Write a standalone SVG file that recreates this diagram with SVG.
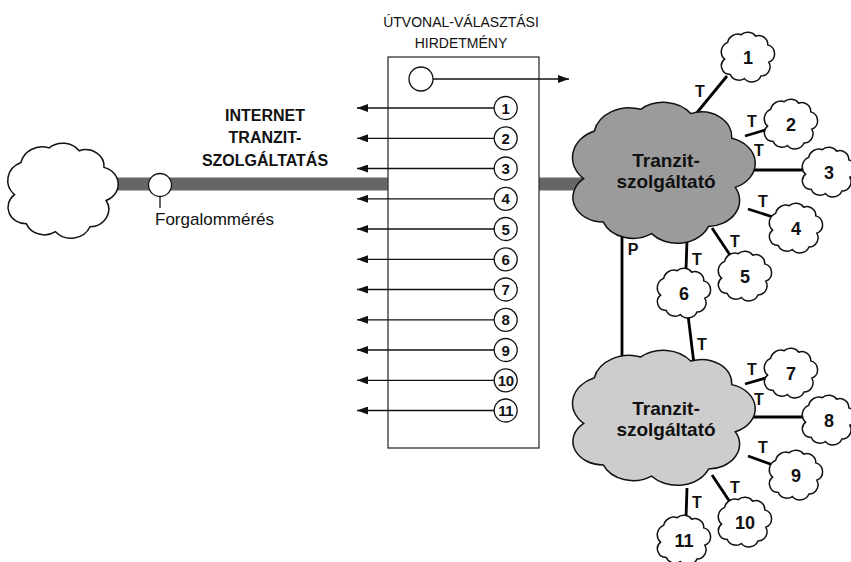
<svg xmlns="http://www.w3.org/2000/svg" xmlns:xlink="http://www.w3.org/1999/xlink" width="851" height="562" viewBox="0 0 851 562">
  <style>
    text { font-family: "Liberation Sans", Arial, sans-serif; fill: #111; }
    .cloud { fill: #fff; stroke: #111; stroke-width: 1.5; }
    .dark { fill: #9b9b9b; }
    .light { fill: #cdcdcd; }
    .bar { fill: #666; }
    .link { stroke: #000; stroke-width: 2.8; fill: none; }
    .arrow { stroke: #111; stroke-width: 1.3; fill: none; marker-end: url(#ah); }
    .ring { fill: #fff; stroke: #111; stroke-width: 1.3; }
    .num { font-size: 15px; font-weight: bold; text-anchor: middle; }
    .big { font-size: 18px; font-weight: bold; text-anchor: middle; }
    .tag { font-size: 16px; font-weight: bold; text-anchor: middle; }
    .isp { font-size: 19px; font-weight: bold; text-anchor: middle; }
  </style>
  <defs>
    <marker id="ah" markerWidth="12" markerHeight="8" refX="11" refY="4" orient="auto" markerUnits="userSpaceOnUse">
      <path d="M0,0 L11,4 L0,8 Z" fill="#111"/>
    </marker>
    <!-- generic cloud outline, roughly 102 x 97 around (3,1.7) -->
    <path id="cloudShape" vector-effect="non-scaling-stroke" d="M-42,6 A20,20 0 0 1 -36,-27 A20,20 0 0 1 -10,-42 A19,19 0 0 1 18,-39 A17,17 0 0 1 41,-22 A18,18 0 0 1 43,12 A18,18 0 0 1 28,39 A19,19 0 0 1 -4,44 A18,18 0 0 1 -31,36 A17,17 0 0 1 -42,6 Z"/>
  </defs>

  <!-- trunk lines -->
  <rect class="bar" x="100" y="177.5" width="288" height="13"/>
  <rect class="bar" x="539" y="177.5" width="70" height="13"/>

  <!-- connectors -->
  <g id="connectors">
    <line class="link" x1="695" y1="115" x2="727" y2="76"/>
    <line class="link" x1="745" y1="136" x2="772" y2="128"/>
    <line class="link" x1="745" y1="170" x2="808" y2="170"/>
    <line class="link" x1="748" y1="209" x2="773" y2="217"/>
    <line class="link" x1="712" y1="228" x2="732" y2="258"/>
    <line class="link" x1="687" y1="240" x2="686" y2="270"/>
    <line class="link" x1="622" y1="235" x2="622" y2="368"/>
    <line class="link" x1="688" y1="315" x2="694" y2="364"/>
    <line class="link" x1="745" y1="384" x2="769" y2="377"/>
    <line class="link" x1="745" y1="417" x2="808" y2="417"/>
    <line class="link" x1="748" y1="456" x2="773" y2="465"/>
    <line class="link" x1="712" y1="475" x2="732" y2="505"/>
    <line class="link" x1="687" y1="488" x2="686" y2="518"/>
    <g id="link-labels">
      <text class="tag" x="700" y="97">T</text>
      <text class="tag" x="752" y="127">T</text>
      <text class="tag" x="759" y="156">T</text>
      <text class="tag" x="763" y="207">T</text>
      <text class="tag" x="735" y="247">T</text>
      <text class="tag" x="697" y="265">T</text>
      <text class="tag" x="633" y="255">P</text>
      <text class="tag" x="702" y="350">T</text>
      <text class="tag" x="752" y="375">T</text>
      <text class="tag" x="759" y="405">T</text>
      <text class="tag" x="763" y="453">T</text>
      <text class="tag" x="735" y="493">T</text>
      <text class="tag" x="697" y="508">T</text>
    </g>
  </g>

  <!-- upstream network and measuring point -->
  <g id="internet">
    <use xlink:href="#cloudShape" class="cloud" transform="translate(59.8,188.8) scale(1.078,0.974)"/>
  </g>
  <g id="measure">
    <circle class="ring" cx="160" cy="185" r="11.5"/>
    <line x1="160" y1="196.5" x2="160" y2="208" stroke="#111" stroke-width="1.3"/>
    <text x="155" y="225" font-size="17">Forgalommérés</text>
  </g>
  <g id="service-label">
    <text class="tag" x="265" y="121">INTERNET</text>
    <text class="tag" x="265" y="143">TRANZIT-</text>
    <text class="tag" x="265" y="166">SZOLGÁLTATÁS</text>
  </g>

  <!-- route advertisement panel -->
  <g id="advert">
    <text x="461" y="27" font-size="14" text-anchor="middle">ÚTVONAL-VÁLASZTÁSI</text>
    <text x="461" y="48" font-size="14" text-anchor="middle">HIRDETMÉNY</text>
    <rect x="388" y="57" width="151" height="391" fill="#fff" stroke="#333" stroke-width="1.3"/>
    <circle class="ring" cx="421" cy="79" r="12"/>
    <line class="arrow" x1="433" y1="79" x2="569" y2="79"/>
    <g id="routes">
      <line class="arrow" x1="494" y1="108" x2="357" y2="108"/>
      <line class="arrow" x1="494" y1="138.3" x2="357" y2="138.3"/>
      <line class="arrow" x1="494" y1="168.5" x2="357" y2="168.5"/>
      <line class="arrow" x1="494" y1="198.8" x2="357" y2="198.8"/>
      <line class="arrow" x1="494" y1="229" x2="357" y2="229"/>
      <line class="arrow" x1="494" y1="259.3" x2="357" y2="259.3"/>
      <line class="arrow" x1="494" y1="289.5" x2="357" y2="289.5"/>
      <line class="arrow" x1="494" y1="319.8" x2="357" y2="319.8"/>
      <line class="arrow" x1="494" y1="350" x2="357" y2="350"/>
      <line class="arrow" x1="494" y1="380.3" x2="357" y2="380.3"/>
      <line class="arrow" x1="494" y1="410.5" x2="357" y2="410.5"/>
      <circle class="ring" cx="505.7" cy="108" r="11.5"/>
      <circle class="ring" cx="505.7" cy="138.3" r="11.5"/>
      <circle class="ring" cx="505.7" cy="168.5" r="11.5"/>
      <circle class="ring" cx="505.7" cy="198.8" r="11.5"/>
      <circle class="ring" cx="505.7" cy="229" r="11.5"/>
      <circle class="ring" cx="505.7" cy="259.3" r="11.5"/>
      <circle class="ring" cx="505.7" cy="289.5" r="11.5"/>
      <circle class="ring" cx="505.7" cy="319.8" r="11.5"/>
      <circle class="ring" cx="505.7" cy="350" r="11.5"/>
      <circle class="ring" cx="505.7" cy="380.3" r="11.5"/>
      <circle class="ring" cx="505.7" cy="410.5" r="11.5"/>
      <text class="num" x="505.7" y="113.5">1</text>
      <text class="num" x="505.7" y="143.8">2</text>
      <text class="num" x="505.7" y="174">3</text>
      <text class="num" x="505.7" y="204.3">4</text>
      <text class="num" x="505.7" y="234.5">5</text>
      <text class="num" x="505.7" y="264.8">6</text>
      <text class="num" x="505.7" y="295">7</text>
      <text class="num" x="505.7" y="325.3">8</text>
      <text class="num" x="505.7" y="355.5">9</text>
      <text class="num" x="505.7" y="385.8" letter-spacing="-0.5">10</text>
      <text class="num" x="505.7" y="416" letter-spacing="-0.5">11</text>
    </g>
  </g>

  <!-- transit providers -->
  <g id="transit-upper">
    <use xlink:href="#cloudShape" class="cloud dark" transform="translate(658.6,170) scale(1.784,1.446)"/>
    <text class="isp" x="666" y="167">Tranzit-</text>
    <text class="isp" x="666" y="188">szolgáltató</text>
  </g>
  <g id="transit-lower">
    <use xlink:href="#cloudShape" class="cloud light" transform="translate(658.6,415.1) scale(1.784,1.385)"/>
    <text class="isp" x="666" y="415">Tranzit-</text>
    <text class="isp" x="666" y="436">szolgáltató</text>
  </g>

  <!-- customer networks -->
  <g id="net-1"><use xlink:href="#cloudShape" class="cloud" transform="translate(746.4,56.1) scale(0.52,0.51)"/><text class="big" x="748" y="63.5">1</text></g>
  <g id="net-2"><use xlink:href="#cloudShape" class="cloud" transform="translate(789.4,123.1) scale(0.52,0.51)"/><text class="big" x="791" y="130.5">2</text></g>
  <g id="net-3"><use xlink:href="#cloudShape" class="cloud" transform="translate(827.4,171.1) scale(0.52,0.51)"/><text class="big" x="829" y="178.5">3</text></g>
  <g id="net-4"><use xlink:href="#cloudShape" class="cloud" transform="translate(794.4,227.1) scale(0.52,0.51)"/><text class="big" x="796" y="234.5">4</text></g>
  <g id="net-5"><use xlink:href="#cloudShape" class="cloud" transform="translate(743.4,275.1) scale(0.52,0.51)"/><text class="big" x="745" y="282.5">5</text></g>
  <g id="net-6"><use xlink:href="#cloudShape" class="cloud" transform="translate(682.4,292.1) scale(0.52,0.51)"/><text class="big" x="684" y="299.5">6</text></g>
  <g id="net-7"><use xlink:href="#cloudShape" class="cloud" transform="translate(789.4,372.1) scale(0.52,0.51)"/><text class="big" x="791" y="379.5">7</text></g>
  <g id="net-8"><use xlink:href="#cloudShape" class="cloud" transform="translate(827.4,419.1) scale(0.52,0.51)"/><text class="big" x="829" y="426.5">8</text></g>
  <g id="net-9"><use xlink:href="#cloudShape" class="cloud" transform="translate(794.4,474.1) scale(0.52,0.51)"/><text class="big" x="796" y="481.5">9</text></g>
  <g id="net-10"><use xlink:href="#cloudShape" class="cloud" transform="translate(743.4,521.1) scale(0.52,0.51)"/><text class="big" x="745" y="528.5">10</text></g>
  <g id="net-11"><use xlink:href="#cloudShape" class="cloud" transform="translate(682.4,539.1) scale(0.52,0.51)"/><text class="big" x="684" y="546.5">11</text></g>
</svg>
